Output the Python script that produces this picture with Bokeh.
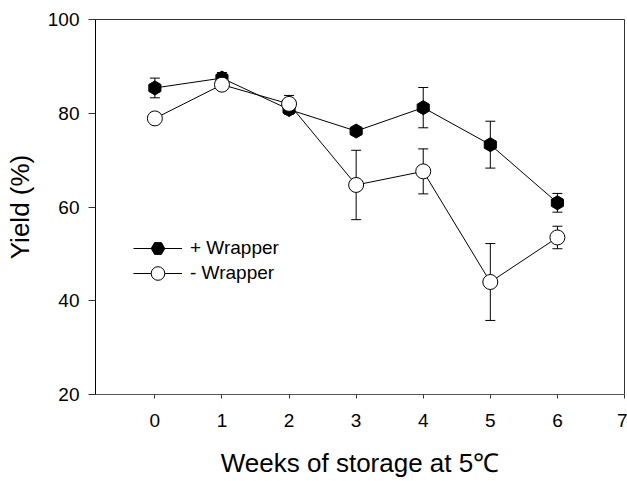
import math
from bokeh.plotting import figure
from bokeh.models import (ColumnDataSource, Whisker, TeeHead, Legend, LegendItem,
                          FixedTicker, Range1d)
from bokeh.embed import file_html
from bokeh.resources import INLINE

# Storage time (weeks at 5 C)
weeks = [0, 1, 2, 3, 4, 5, 6]

# Yield (%) with wrapper leaves kept on, and its error
yield_with = [85.4, 87.5, 80.8, 76.2, 81.2, 73.3, 60.9]
err_with = [2.1, 1.2, 1.0, 0.8, 4.3, 5.0, 2.0]

# Yield (%) with wrapper leaves removed, and its error
yield_without = [78.9, 86.1, 82.0, 64.7, 67.6, 44.0, 53.5]
err_without = [0.8, 0.8, 1.8, 7.4, 4.8, 8.2, 2.4]

x_ticks = [0, 1, 2, 3, 4, 5, 6, 7]
y_ticks = [20, 40, 60, 80, 100]

FONT = "Liberation Sans"

p = figure(width=627, height=481, output_backend="svg", toolbar_location=None,
           x_range=Range1d(-0.885, 7.0), y_range=Range1d(20, 100),
           min_border_left=95, min_border_top=19, min_border_right=3,
           min_border_bottom=87)

p.grid.visible = False
p.background_fill_color = "white"
p.border_fill_color = "white"
p.outline_line_color = "#333333"
p.outline_line_width = 1

# Axes
p.xaxis.ticker = FixedTicker(ticks=x_ticks)
p.yaxis.ticker = FixedTicker(ticks=y_ticks)
for ax in (p.xaxis[0], p.yaxis[0]):
    ax.minor_tick_line_color = None
    ax.major_tick_in = 0
    ax.major_label_text_font = FONT
    ax.major_label_text_font_size = "19px"
    ax.major_label_text_color = "black"
    ax.axis_label_text_font = FONT
    ax.axis_label_text_font_size = "26px"
    ax.axis_label_text_font_style = "normal"
    ax.axis_label_text_color = "black"
    ax.major_tick_line_color = "#333333"

p.xaxis.axis_label = "Weeks of storage at 5\u2103"
p.xaxis.major_tick_out = 4
p.xaxis.major_label_standoff = 15
p.xaxis.axis_label_standoff = 18
p.xaxis.axis_line_color = "#555555"

p.yaxis.axis_label = "Yield (%)"
p.yaxis.major_tick_out = 7
p.yaxis.major_label_standoff = 9
p.yaxis.axis_label_standoff = 10
p.yaxis.axis_line_color = "black"

src_with = ColumnDataSource(dict(
    x=weeks, y=yield_with,
    upper=[v + e for v, e in zip(yield_with, err_with)],
    lower=[v - e for v, e in zip(yield_with, err_with)]))
src_without = ColumnDataSource(dict(
    x=weeks, y=yield_without,
    upper=[v + e for v, e in zip(yield_without, err_without)],
    lower=[v - e for v, e in zip(yield_without, err_without)]))


def error_bars(src):
    w = Whisker(source=src, base="x", upper="upper", lower="lower",
                dimension="height", line_color="black", line_width=1,
                level="underlay",
                upper_head=TeeHead(size=10, line_color="black", line_width=1),
                lower_head=TeeHead(size=10, line_color="black", line_width=1))
    p.add_layout(w)


error_bars(src_with)
line_with = p.line("x", "y", source=src_with, line_color="black", line_width=1)
pts_with = p.scatter("x", "y", source=src_with, marker="hex", size=14,
                     angle=math.pi / 6, fill_color="black", line_color="black")

error_bars(src_without)
line_without = p.line("x", "y", source=src_without, line_color="black", line_width=1)
pts_without = p.scatter("x", "y", source=src_without, marker="circle", size=15,
                        fill_color="white", line_color="black", line_width=1)


def legend_row(label, renderers, y_offset):
    lg = Legend(items=[LegendItem(label=label, renderers=renderers)],
                location=(38, y_offset))
    lg.border_line_color = None
    lg.background_fill_alpha = 0
    lg.padding = 0
    lg.margin = 0
    lg.glyph_width = 49
    lg.glyph_height = 34
    lg.label_height = 20
    lg.label_standoff = 8
    lg.label_text_font = FONT
    lg.label_text_font_size = "19px"
    lg.label_text_color = "black"
    p.add_layout(lg, "center")


legend_row("+ Wrapper", [line_with, pts_with], 129)
legend_row("- Wrapper", [line_without, pts_without], 104)

open("out.html", "w").write(file_html(p, INLINE))
